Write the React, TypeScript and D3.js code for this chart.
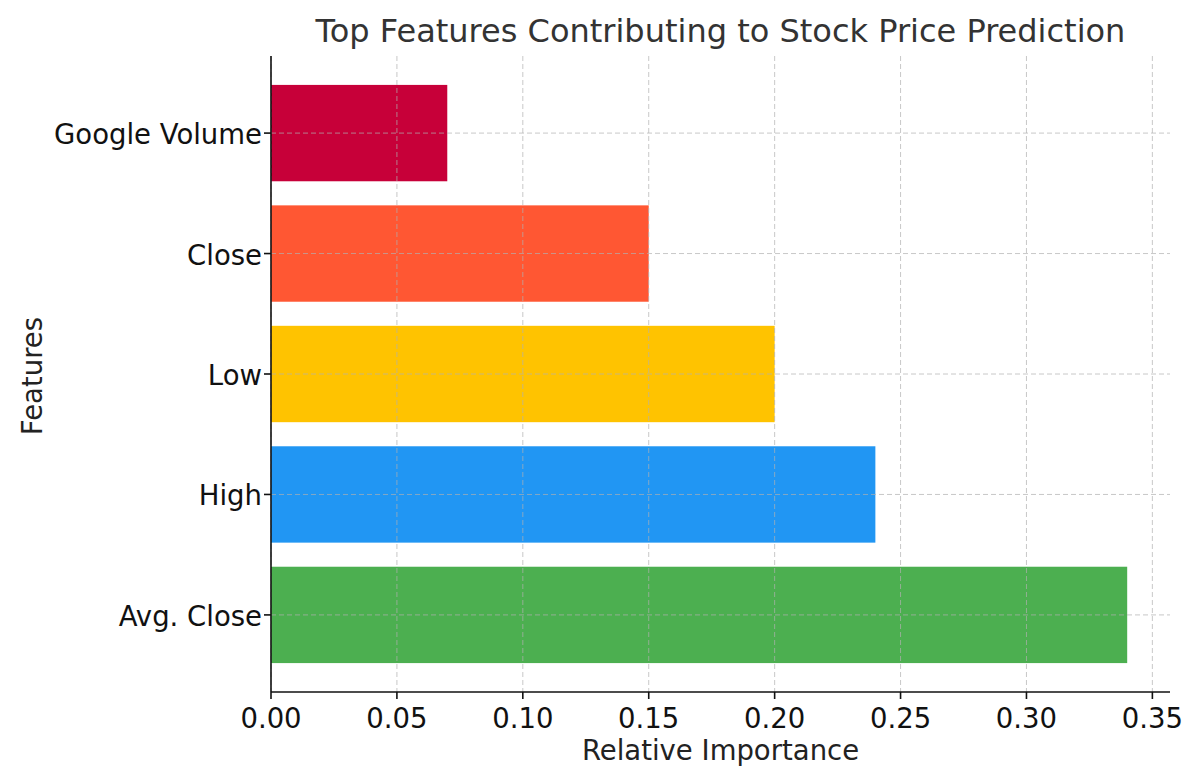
import React from 'react';
import * as d3 from 'd3';

const features = ['Avg. Close', 'High', 'Low', 'Close', 'Google Volume'];
const importance = [0.34, 0.24, 0.2, 0.15, 0.07];
const barColors = ['#4CAF50', '#2196F3', '#FFC300', '#FF5733', '#C70039'];
const xTicks = [0, 0.05, 0.1, 0.15, 0.2, 0.25, 0.3, 0.35];

const W = 1200;
const H = 782;
const margin = { top: 56, right: 30, bottom: 90, left: 271 };
const font = 'DejaVu Sans, sans-serif';

const App = () => {
  const innerW = W - margin.left - margin.right;
  const innerH = H - margin.top - margin.bottom;
  const xMax = d3.max(importance) * 1.05;
  const x = d3.scaleLinear().domain([0, xMax]).range([0, innerW]);
  // matplotlib-style categorical axis: positions 0..n-1, bar height 0.8, 5% margins
  const n = features.length;
  const pad = (n - 1 + 0.8) * 0.05;
  const y = d3
    .scaleLinear()
    .domain([-0.4 - pad, n - 1 + 0.4 + pad])
    .range([innerH, 0]);
  const bh = y(0) - y(0.8);

  return (
    <svg width={W} height={H} style={{ position: 'absolute', left: 0, top: 0 }} fontFamily={font}>
      <rect width={W} height={H} fill="#fff" />
      <text x={margin.left + innerW / 2} y={42} textAnchor="middle" fontSize={32} fill="#333">
        Top Features Contributing to Stock Price Prediction
      </text>
      <g transform={`translate(${margin.left},${margin.top})`}>
        {features.map((f, i) => (
          <rect
            key={f}
            x={x(0)}
            y={y(i + 0.4)}
            width={x(importance[i]) - x(0)}
            height={bh}
            fill={barColors[i]}
          />
        ))}
        {xTicks.map(t => (
          <line
            key={'gx' + t}
            x1={x(t)}
            x2={x(t)}
            y1={0}
            y2={innerH}
            stroke="#b0b0b0"
            strokeOpacity={0.7}
            strokeDasharray="5,3"
            strokeWidth={1}
          />
        ))}
        {features.map((f, i) => (
          <line
            key={'gy' + f}
            x1={0}
            x2={innerW}
            y1={y(i)}
            y2={y(i)}
            stroke="#b0b0b0"
            strokeOpacity={0.7}
            strokeDasharray="5,3"
            strokeWidth={1}
          />
        ))}
        <line x1={0} x2={0} y1={0} y2={innerH} stroke="#111" strokeWidth={1.6} />
        <line x1={0} x2={innerW} y1={innerH} y2={innerH} stroke="#111" strokeWidth={1.6} />
        {xTicks.map(t => (
          <g key={'tx' + t} transform={`translate(${x(t)},${innerH})`}>
            <line y1={0} y2={7} stroke="#111" strokeWidth={1.6} />
            <text y={36} textAnchor="middle" fontSize={27.5} fill="#111">
              {t.toFixed(2)}
            </text>
          </g>
        ))}
        {features.map((f, i) => (
          <g key={'ty' + f} transform={`translate(0,${y(i)})`}>
            <line x1={-7} x2={0} stroke="#111" strokeWidth={1.6} />
            <text x={-9} dy="0.4em" textAnchor="end" fontSize={27.5} fill="#111">
              {f}
            </text>
          </g>
        ))}
        <text x={innerW / 2} y={innerH + 68} textAnchor="middle" fontSize={27.5} fill="#222">
          Relative Importance
        </text>
        <text
          transform={`translate(${-229},${innerH / 2 + 2}) rotate(-90)`}
          textAnchor="middle"
          fontSize={27.5}
          fill="#222"
        >
          Features
        </text>
      </g>
    </svg>
  );
};

export default App;
